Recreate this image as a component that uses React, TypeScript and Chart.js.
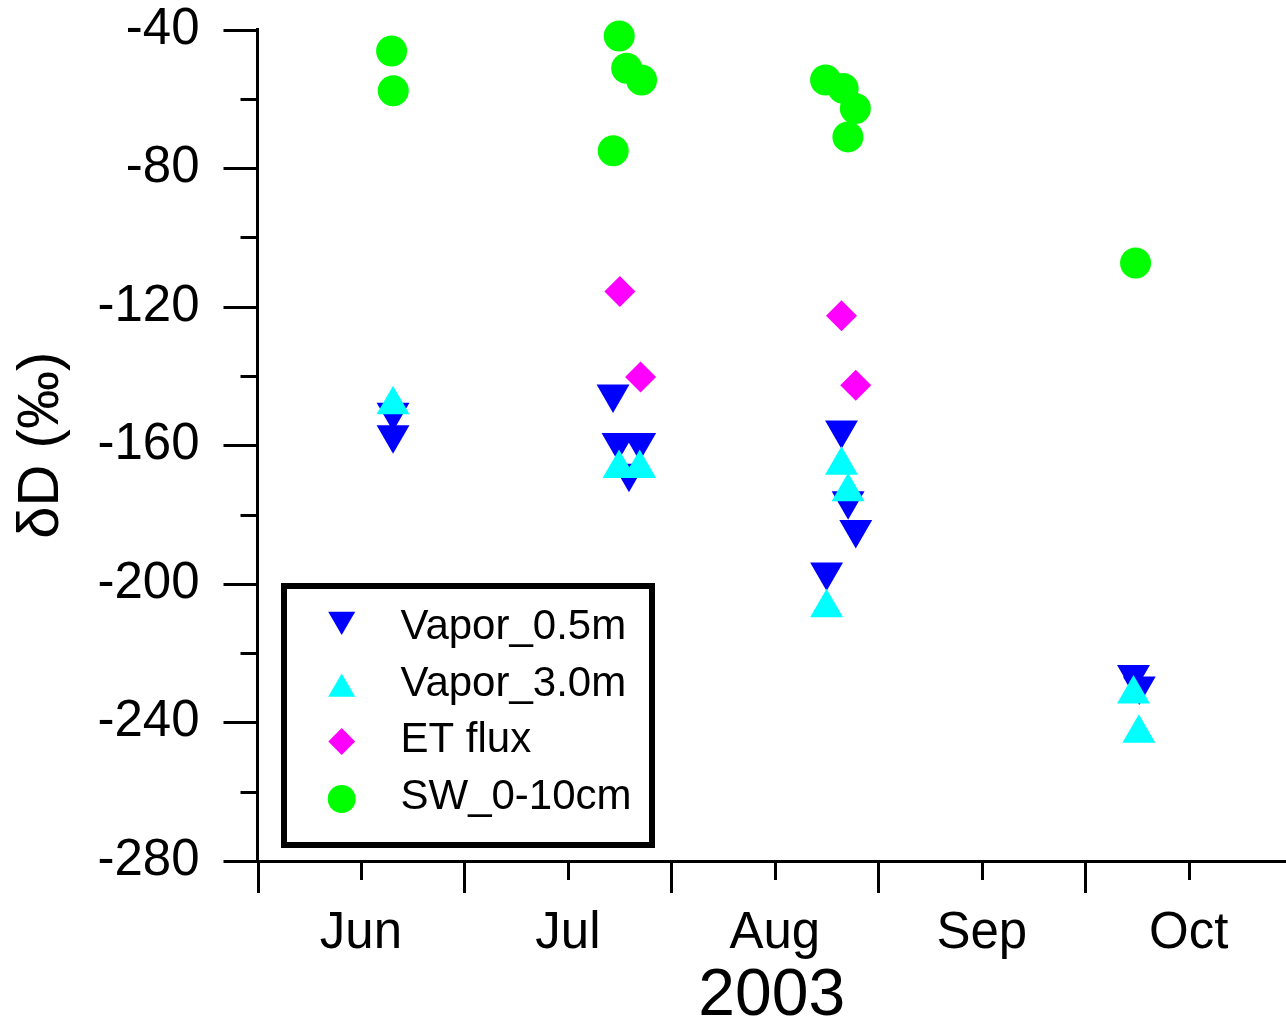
import React, { useEffect, useRef } from 'react';
import { Chart, registerables } from 'chart.js';
import { drawPoint } from 'chart.js/helpers';

Chart.register(...registerables);

// ---- labels / axis definitions ----
const MONTHS = ['Jun', 'Jul', 'Aug', 'Sep', 'Oct'];
const YEAR_LABEL = '2003';
const Y_TITLE = 'δD (‰)';
const Y_MIN = -280;
const Y_MAX = -40;
const Y_LABEL_STEP = 40;
const Y_MINOR_STEP = 20;
const X_MIN = 0; // 1 Jun 2003
const X_MAX = 4.97; // months after 1 Jun 2003

// ---- data (x = months after 1 Jun 2003, y = δD ‰) ----
const vapor05X = [0.655, 0.655, 1.718, 1.742, 1.847, 1.795, 2.822, 2.854, 2.891, 2.75, 4.233, 4.261];
const vapor05Y = [-150.5, -157, -145.2, -159.2, -159.2, -168.1, -155.6, -176.0, -184.3, -196.6, -226.2, -229.5];
const vapor30X = [0.655, 1.747, 1.847, 2.822, 2.854, 2.75, 4.233, 4.259];
const vapor30Y = [-148.3, -166.7, -166.7, -165.8, -173.4, -206.9, -231.8, -243.1];
const etFluxX = [1.751, 1.851, 2.822, 2.891];
const etFluxY = [-115.6, -140.3, -122.6, -142.7];
const sw010X = [0.648, 0.656, 1.748, 1.784, 1.856, 1.719, 2.745, 2.83, 2.889, 2.853, 4.243];
const sw010Y = [-46.2, -57.7, -41.9, -51.2, -54.6, -75.0, -54.6, -57.0, -62.8, -71.0, -107.4];

const FONT = "'Liberation Sans', Arial, sans-serif";

const SERIES = [
  { label: 'Vapor_0.5m', xs: vapor05X, ys: vapor05Y, color: '#0000FF', style: 'triangle', rotation: 180, radius: 19, order: 2, legR: 15.6, legDy: -8 },
  { label: 'Vapor_3.0m', xs: vapor30X, ys: vapor30Y, color: '#00FFFF', style: 'triangle', rotation: 0, radius: 19, order: 1, legR: 15.6, legDy: 5 },
  { label: 'ET flux', xs: etFluxX, ys: etFluxY, color: '#FF00FF', style: 'rectRot', rotation: 0, radius: 15.5, order: 3, legR: 13.4, legDy: 1 },
  { label: 'SW_0-10cm', xs: sw010X, ys: sw010Y, color: '#00FF00', style: 'circle', rotation: 0, radius: 15.5, order: 4, legR: 14, legDy: 2 },
];

const axisTicksPlugin = {
  id: 'axisTicks',
  afterDraw(chart: any) {
    const { ctx, chartArea } = chart;
    const xs = chart.scales.x;
    const ys = chart.scales.y;
    const ax = chartArea.left;
    const ay = chartArea.bottom;
    ctx.save();
    ctx.strokeStyle = '#000';
    ctx.lineWidth = 3;
    for (let v = Y_MIN; v <= Y_MAX; v += Y_MINOR_STEP) {
      const py = Math.round(ys.getPixelForValue(v)) + 0.5;
      const len = v % Y_LABEL_STEP === 0 ? 34 : 17;
      ctx.beginPath();
      ctx.moveTo(ax - len, py);
      ctx.lineTo(ax, py);
      ctx.stroke();
    }
    for (let v = X_MIN; v <= MONTHS.length - 0.5; v += 0.5) {
      const px = Math.round(xs.getPixelForValue(v)) + 0.5;
      const len = Number.isInteger(v) ? 32 : 19;
      ctx.beginPath();
      ctx.moveTo(px, ay);
      ctx.lineTo(px, ay + len);
      ctx.stroke();
    }
    ctx.restore();
  },
};

const boxLegendPlugin = {
  id: 'boxLegend',
  afterDraw(chart: any) {
    const { ctx, chartArea } = chart;
    const left = chartArea.left + 26.5;
    const top = chartArea.bottom - 275;
    const w = 368;
    const h = 259;
    ctx.save();
    ctx.fillStyle = '#fff';
    ctx.fillRect(left, top, w, h);
    ctx.strokeStyle = '#000';
    ctx.lineWidth = 6;
    ctx.strokeRect(left, top, w, h);
    ctx.font = `42px ${FONT}`;
    ctx.textBaseline = 'middle';
    ctx.textAlign = 'left';
    SERIES.forEach((s, i) => {
      const rowY = top + 41.5 + i * 56.5;
      ctx.fillStyle = s.color;
      drawPoint(ctx, { pointStyle: s.style as any, rotation: s.rotation, radius: s.legR, borderWidth: 0 }, left + 57.7, rowY + s.legDy);
      ctx.fillStyle = '#000';
      ctx.fillText(s.label, left + 116.5, rowY);
    });
    ctx.restore();
  },
};

export default function App() {
  const ref = useRef<HTMLCanvasElement>(null);

  useEffect(() => {
    if (!ref.current) return;
    const chart = new Chart(ref.current, {
      type: 'scatter',
      data: {
        datasets: SERIES.map((s) => ({
          label: s.label,
          data: s.xs.map((x, i) => ({ x, y: s.ys[i] })),
          backgroundColor: s.color,
          borderColor: s.color,
          borderWidth: 0,
          pointStyle: s.style as any,
          rotation: s.rotation,
          pointRadius: s.radius,
          pointHoverRadius: s.radius,
          order: s.order,
          clip: false as any,
        })),
      },
      options: {
        animation: false,
        responsive: false,
        devicePixelRatio: 1,
        layout: { autoPadding: false, padding: { top: 29.5, left: 0, right: 0, bottom: 0 } },
        plugins: {
          legend: { display: false },
          tooltip: { enabled: false },
        },
        scales: {
          x: {
            type: 'linear',
            min: X_MIN,
            max: X_MAX,
            grid: { display: false, drawTicks: false },
            border: { display: true, color: '#000', width: 3 },
            afterBuildTicks: (scale: any) => {
              const t = [];
              for (let v = X_MIN; v <= MONTHS.length - 0.5; v += 0.5) t.push({ value: v });
              scale.ticks = t;
            },
            afterFit: (scale: any) => {
              scale.height = 164;
              scale.paddingLeft = 0;
              scale.paddingRight = 0;
            },
            ticks: {
              autoSkip: false,
              maxRotation: 0,
              minRotation: 0,
              padding: 42,
              color: '#000',
              font: { family: FONT, size: 51, lineHeight: 1.2 },
              callback: (v: any) => (Number.isInteger(v) ? '' : MONTHS[Math.floor(v)]),
            },
            title: {
              display: true,
              text: YEAR_LABEL,
              color: '#000',
              font: { family: FONT, size: 66, lineHeight: 0.86 },
              padding: { top: 0, bottom: 0 },
            },
          },
          y: {
            type: 'linear',
            min: Y_MIN,
            max: Y_MAX,
            grid: { display: false, drawTicks: false },
            border: { display: true, color: '#000', width: 3 },
            afterFit: (scale: any) => {
              scale.width = 257.5;
              scale.paddingTop = 0;
              scale.paddingBottom = 0;
            },
            ticks: {
              stepSize: Y_MINOR_STEP,
              autoSkip: false,
              padding: 58,
              color: '#000',
              font: { family: FONT, size: 51, lineHeight: 1 },
              callback: (v: any) => (Number(v) % Y_LABEL_STEP === 0 ? String(v) : ''),
            },
            title: {
              display: true,
              text: Y_TITLE,
              color: '#000',
              font: { family: FONT, size: 58, lineHeight: 1 },
              padding: { top: 13, bottom: 0 },
            },
          },
        },
      },
      plugins: [axisTicksPlugin, boxLegendPlugin],
    });
    return () => chart.destroy();
  }, []);

  return (
    <div style={{ position: 'absolute', left: 0, top: 0, width: 1286, height: 1025, background: '#fff' }}>
      <canvas ref={ref} width={1286} height={1025} style={{ display: 'block', width: 1286, height: 1025 }} />
    </div>
  );
}
